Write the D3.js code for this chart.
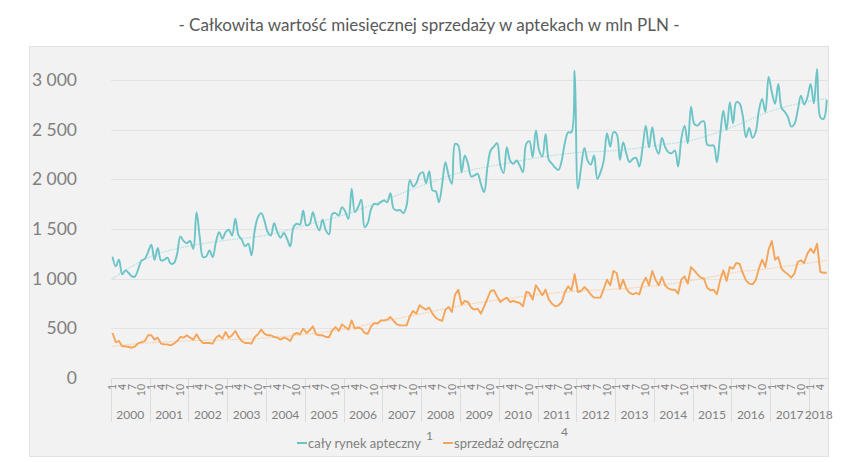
<!DOCTYPE html>
<html><head><meta charset="utf-8">
<script src="https://cdn.jsdelivr.net/npm/d3@7"></script>
<style>
html,body{margin:0;padding:0;background:#fff;}
svg{display:block;font-family:Lato,"Open Sans",sans-serif;}
</style></head>
<body><svg id="c" width="860" height="462"></svg>
<script>
const title = "- Całkowita wartość miesięcznej sprzedaży w aptekach w mln PLN -";
const years = [2000,2001,2002,2003,2004,2005,2006,2007,2008,2009,2010,2011,2012,2013,2014,2015,2016,2017,2018];
const monthsInLastYear = 6;
const monthTickLabels = ["1","4","7","10"];
const yTicks = [0,500,1000,1500,2000,2500,3000];
const seriesNames = ["cały rynek apteczny", "sprzedaż odręczna"];
const seriesSup = ["1", "4"];

// cały rynek apteczny (monthly, Jan 2000 – Jun 2018)
const totalMarket = [
1220,1124,1190,1044,1084,1057,1023,1023,1100,1184,1200,1268,
1342,1190,1308,1184,1190,1211,1151,1157,1251,1425,1379,1358,
1379,1301,1670,1419,1218,1224,1285,1218,1368,1469,1402,1469,
1492,1435,1603,1435,1392,1325,1352,1235,1486,1620,1660,1586,
1469,1435,1559,1469,1412,1459,1402,1325,1519,1553,1546,1687,
1536,1553,1670,1553,1486,1593,1486,1446,1653,1660,1637,1720,
1677,1603,1905,1670,1720,1794,1519,1560,1700,1754,1747,1770,
1787,1770,1861,1704,1687,1690,1660,1737,1995,1928,1960,2050,
2072,1961,2082,1888,1880,1770,1950,2173,2039,1955,2357,2340,
2072,2240,2156,2028,2040,2055,1950,1871,2122,2290,2330,2363,
2139,2062,2323,2189,2156,2189,2139,2072,2357,2384,2223,2491,
2290,2229,2457,2196,2156,2116,2095,2189,2374,2474,2474,3094,
1905,2122,2317,2189,2149,2240,2005,2072,2189,2464,2330,2474,
2457,2196,2374,2256,2173,2206,2216,2129,2317,2541,2323,2524,
2330,2256,2417,2323,2273,2263,2290,2129,2407,2541,2363,2732,
2558,2541,2575,2585,2350,2340,2340,2173,2441,2692,2497,2776,
2564,2776,2765,2641,2424,2518,2417,2474,2692,2809,2680,3030,
2880,2760,2960,2720,2680,2625,2531,2558,2692,2843,2752,2826,
2960,2765,3111,2625,2608,2800];

// sprzedaż odręczna (monthly)
const otcSales = [
453,362,372,319,319,312,305,319,352,362,372,430,
430,386,406,346,339,339,329,346,372,413,406,430,
406,386,440,386,352,352,352,346,406,430,396,463,
406,430,473,413,372,352,352,346,413,440,487,446,
430,430,413,406,386,406,396,372,440,453,440,497,
453,480,520,440,430,430,413,410,480,513,473,540,
513,487,580,497,507,497,453,446,520,554,547,580,
580,587,614,574,540,530,530,530,621,675,648,732,
708,688,708,648,607,587,574,688,715,664,842,889,
740,775,765,708,688,698,648,720,800,876,883,822,
765,790,809,765,775,765,755,721,866,856,789,933,
883,832,889,789,748,721,732,765,866,923,883,1044,
866,876,916,883,839,809,809,809,899,990,933,1077,
1057,899,990,899,856,842,856,842,950,1010,933,1077,
990,933,1017,933,899,889,889,849,990,1023,950,1117,
1084,1044,1010,1000,909,883,889,842,983,1084,977,1117,
1101,1158,1151,1057,983,950,943,983,1101,1191,1117,1292,
1379,1191,1218,1101,1067,1044,1010,1050,1168,1185,1158,1252,
1302,1258,1352,1067,1060,1060];

// trend lines (month index, value)
const trendIdx   = [0,12,24,36,48,60,72,84,96,108,120,132,144,156,168,180,192,204,216,221];
const trendTotal = [1000,1225,1330,1390,1440,1540,1645,1790,1940,2070,2150,2220,2270,2290,2340,2400,2530,2690,2790,2810];
const trendOTC   = [320,355,375,385,405,440,495,570,650,730,790,840,876,895,930,985,1060,1105,1160,1185];

// categories
const categories = [];
years.forEach((y, k) => {
  const n = k === years.length - 1 ? monthsInLastYear : 12;
  for (let m = 1; m <= n; m++) categories.push({year: y, month: m});
});

const colTotal = "#6cc4c7", colOTC = "#f5a55a";
const colTrendTotal = "#b3e0e1", colTrendOTC = "#f9cfa8";
const textCol = "#7f7f7f";

const svg = d3.select("#c");
// panel
svg.append("rect").attr("x", 29.5).attr("y", 46.5).attr("width", 799).attr("height", 410)
  .attr("fill", "#f2f2f2").attr("stroke", "#e2e2e2");

svg.append("text").attr("x", 429).attr("y", 31).attr("text-anchor", "middle")
  .attr("font-size", 17).attr("fill", "#595959").text(title);

const step = 3.232, x0 = 112.5;
const x = d3.scaleLinear().domain([0, categories.length - 1])
  .range([x0, x0 + step * (categories.length - 1)]);
const y = d3.scaleLinear().domain([0, 3000]).range([378, 80]);

const loc = d3.formatLocale({decimal: ",", thousands: "\u00a0", grouping: [3], currency: ["", ""]});
const fmt = loc.format(",d");

// grid
const gx1 = x(-0.5), gx2 = 828;
svg.append("g").selectAll("line").data(yTicks).join("line")
  .attr("x1", gx1).attr("x2", gx2).attr("y1", d => Math.round(y(d)) + 0.5).attr("y2", d => Math.round(y(d)) + 0.5)
  .attr("stroke", d => d === 0 ? "#d9d9d9" : "#e3e3e3").attr("stroke-width", 1);

// y axis labels
svg.append("g").selectAll("text").data(yTicks).join("text")
  .attr("x", 77).attr("y", d => y(d)).attr("dy", "0.35em").attr("text-anchor", "end")
  .attr("font-size", 17.5).attr("fill", textCol).text(d => fmt(d));

// year separators
const sepIdx = years.map((yr, k) => k * 12 - 0.5);
svg.append("g").selectAll("line").data(sepIdx).join("line")
  .attr("x1", d => Math.round(x(d)) + 0.5).attr("x2", d => Math.round(x(d)) + 0.5)
  .attr("y1", 378).attr("y2", 422).attr("stroke", "#dcdcdc");

// month labels
const mt = categories.map((c, i) => ({c, i})).filter(d => monthTickLabels.includes(String(d.c.month)));
svg.append("g").selectAll("text").data(mt).join("text")
  .attr("transform", d => `translate(${x(d.i)},384) rotate(-90)`)
  .attr("text-anchor", "end").attr("dy", "0.35em")
  .attr("font-size", 10.5).attr("fill", textCol).text(d => String(d.c.month));

// year labels
svg.append("g").selectAll("text").data(years).join("text")
  .attr("x", (d, k) => {
    const n = k === years.length - 1 ? monthsInLastYear : 12;
    return x(k * 12 + (n - 1) / 2);
  })
  .attr("y", 415).attr("dy", "0.35em").attr("text-anchor", "middle")
  .attr("font-size", 12).attr("fill", textCol).text(d => d);

// trend lines
const tline = d3.line().x((d, i) => x(trendIdx[i])).y(d => y(d)).curve(d3.curveCatmullRom.alpha(0.5));
svg.append("path").attr("d", tline(trendTotal)).attr("fill", "none")
  .attr("stroke", colTrendTotal).attr("stroke-width", 1.2).attr("stroke-dasharray", "1.5,1");
svg.append("path").attr("d", tline(trendOTC)).attr("fill", "none")
  .attr("stroke", colTrendOTC).attr("stroke-width", 1.2).attr("stroke-dasharray", "1.5,1");

// series
const lineSmooth = d3.line().x((d, i) => x(i)).y(d => y(d)).curve(d3.curveCatmullRom.alpha(0.5));
const lineStraight = d3.line().x((d, i) => x(i)).y(d => y(d));
svg.append("path").attr("d", lineStraight(otcSales)).attr("fill", "none")
  .attr("stroke", colOTC).attr("stroke-width", 1.9).attr("stroke-linejoin", "round");
svg.append("path").attr("d", lineSmooth(totalMarket)).attr("fill", "none")
  .attr("stroke", colTotal).attr("stroke-width", 1.9).attr("stroke-linejoin", "round");

// legend
const lg = svg.append("g").attr("font-size", 13).attr("fill", textCol);
let lx = 297;
[[colTotal, 0], [colOTC, 1]].forEach(([col, k]) => {
  lg.append("line").attr("x1", lx).attr("x2", lx + 10).attr("y1", 443).attr("y2", 443)
    .attr("stroke", col).attr("stroke-width", 2);
  const t = lg.append("text").attr("x", lx + 11).attr("y", 447.5).text(seriesNames[k]);
  const w = t.node().getComputedTextLength();
  lg.append("text").attr("x", lx + 11 + w + (k === 0 ? 5 : 2)).attr("y", k === 0 ? 440 : 436)
    .attr("font-size", 12).text(seriesSup[k]);
  lx = k === 0 ? 443 : lx;
});
</script></body></html>
